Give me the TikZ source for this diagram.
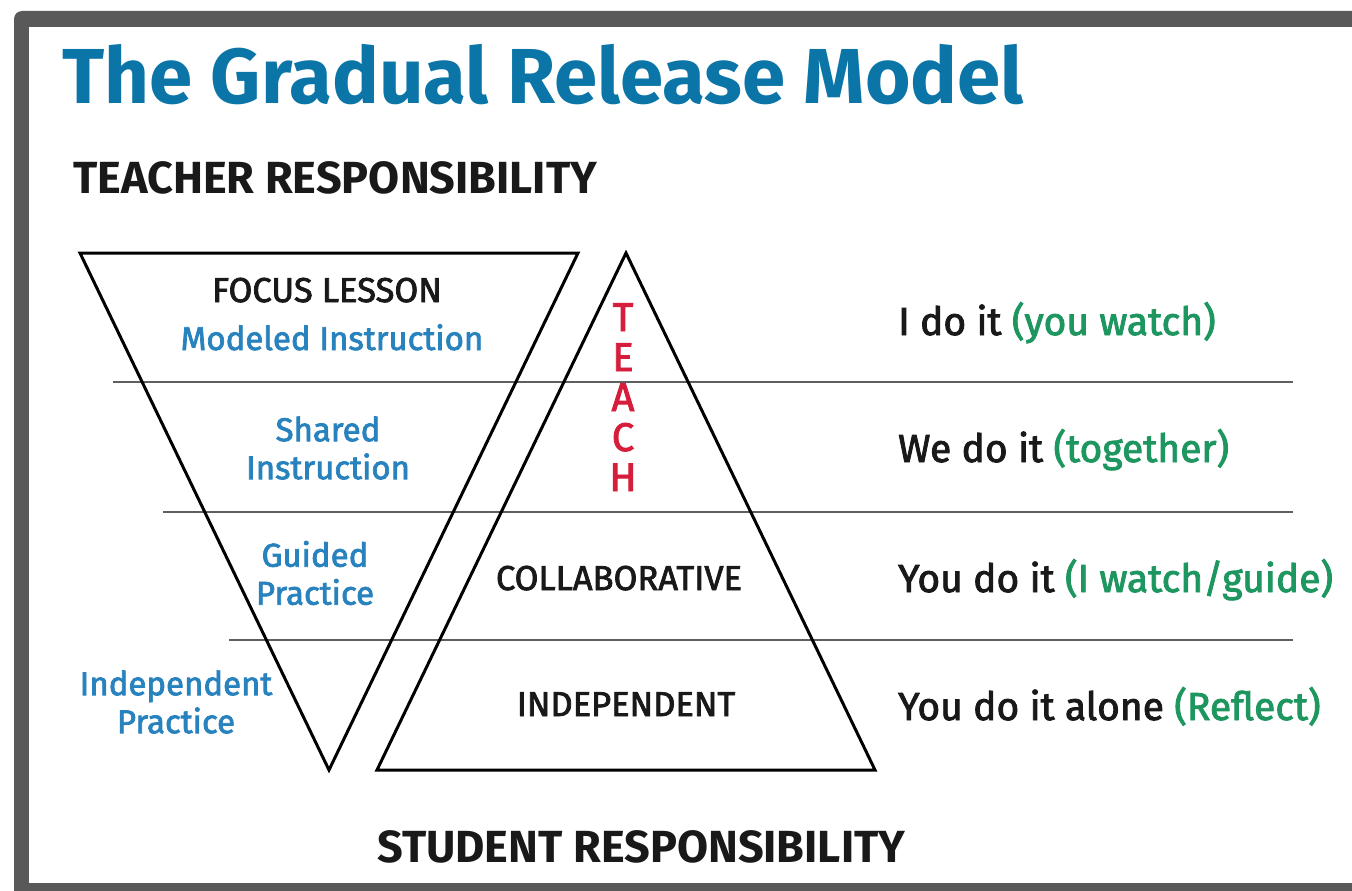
\documentclass[tikz,border=0pt]{standalone}
\usepackage{fontspec}
\setmainfont{Fira Sans}
\newfontfamily\heavyish{Fira Sans}[FakeBold=2.2]
\usetikzlibrary{positioning}

\definecolor{titleblue}{RGB}{10,117,166}
\definecolor{stageblue}{RGB}{40,130,190}
\definecolor{teachred}{RGB}{214,30,60}
\definecolor{doitgreen}{RGB}{30,150,95}
\definecolor{framegray}{RGB}{89,89,89}
\definecolor{rulegray}{RGB}{95,95,95}
\definecolor{inkblack}{RGB}{25,25,25}

\begin{document}
\begin{tikzpicture}[x=1pt,y=-1pt,
    txt/.style={inner sep=0pt,text=inkblack},
    heading/.style={txt,anchor=base west,font=\fontsize{45}{50}\selectfont\bfseries},
    stage/.style={txt,text=stageblue,align=center,font=\fontsize{33}{38}\heavyish},
    level/.style={txt,anchor=base,font=\fontsize{34.5}{38}\heavyish},
    doit/.style={txt,anchor=base west,font=\fontsize{39}{42}\heavyish},
    letter/.style={txt,anchor=base,text=teachred,font=\fontsize{40}{40}\heavyish},
    tri/.style={draw=black,line width=3pt,line join=miter},
    divider/.style={draw=rulegray,line width=2pt}]
    \useasboundingbox (0,0) rectangle (1352,891);

    % frame
    \fill[framegray,rounded corners=8pt] (14,11) rectangle (1380,920);
    \fill[white] (29,27) rectangle (1352,883);

    % dividers
    \draw[divider] (113,382) -- (1293,382);
    \draw[divider] (163,512) -- (1293,512);
    \draw[divider] (229,640) -- (1293,640);

    % triangles
    \draw[tri] (80,253) -- (578,253) -- (329,770) -- cycle;
    \draw[tri] (626,253) -- (875,770) -- (377,770) -- cycle;

    % headings
    \node[txt,anchor=base west,text=titleblue,font=\fontsize{78}{86}\selectfont\bfseries] (title) at (62,103) {The Gradual Release Model};
    \node[heading] (teacher) at (73,193) {TEACHER RESPONSIBILITY};
    \node[heading] (student) at (377,862) {STUDENT RESPONSIBILITY};

    % left triangle
    \node[level] (focus) at (327,302) {FOCUS LESSON};
    \node[stage,anchor=base] (modeled) at (332,350) {Modeled Instruction};
    \node[stage] (shared) at (328,448) {Shared\\Instruction};
    \node[stage] (guided) at (315,573) {Guided\\Practice};
    \node[stage] (indep) at (176,702) {Independent\\Practice};

    % right triangle
    \foreach \ch [count=\i] in {T,E,A,C,H}
        \node[letter] (teach\i) at (623,291+40*\i) {\ch};
    \node[level] (collab) at (619,590) {COLLABORATIVE};
    \node[level] (alone) at (626,716) {INDEPENDENT};

    % what happens
    \node[doit] (ido) at (898,335) {I do it \textcolor{doitgreen}{(you watch)}};
    \node[doit] (wedo) at (898,462) {We do it \textcolor{doitgreen}{(together)}};
    \node[doit] (youdo) at (898,592) {You do it \textcolor{doitgreen}{(I watch/guide)}};
    \node[doit] (youalone) at (898,720) {You do it alone \textcolor{doitgreen}{(Reflect)}};
\end{tikzpicture}
\end{document}
